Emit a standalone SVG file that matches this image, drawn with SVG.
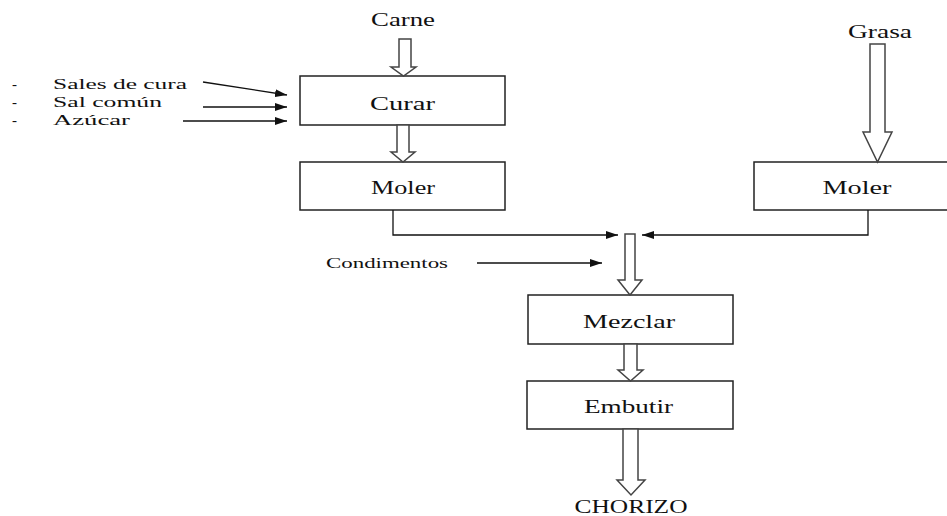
<svg xmlns="http://www.w3.org/2000/svg" width="947" height="516" viewBox="0 0 947 516">
<style>
text{font-family:"Liberation Serif","Times New Roman",serif;fill:#111;}
.t{font-size:18px;}
.l{font-size:15px;}
.s{font-size:14px;}
.box{fill:#fff;stroke:#222;stroke-width:1.5;}
.hol{fill:#fff;stroke:#444;stroke-width:1.5;stroke-linejoin:miter;}
.ln{fill:none;stroke:#111;stroke-width:1.3;}
</style>
<defs>
<marker id="ah" markerWidth="12" markerHeight="8" refX="12" refY="4" orient="auto" markerUnits="userSpaceOnUse">
<path d="M0,0 L12,4 L0,8 Z" fill="#111"/>
</marker>
</defs>
<g id="inputs">
<text class="t" x="403" y="26" text-anchor="middle" textLength="64" lengthAdjust="spacingAndGlyphs">Carne</text>
<text class="t" x="880" y="38" text-anchor="middle" textLength="64" lengthAdjust="spacingAndGlyphs">Grasa</text>
<text class="l" x="12" y="89">-</text>
<text class="l" x="12" y="107">-</text>
<text class="l" x="12" y="125">-</text>
<text class="l" x="53" y="89" textLength="134" lengthAdjust="spacingAndGlyphs">Sales de cura</text>
<text class="l" x="53" y="107" textLength="109" lengthAdjust="spacingAndGlyphs">Sal común</text>
<text class="l" x="53" y="125" textLength="77" lengthAdjust="spacingAndGlyphs">Azúcar</text>
<text class="s" x="326" y="268" textLength="122" lengthAdjust="spacingAndGlyphs">Condimentos</text>
<text class="t" x="631" y="513" text-anchor="middle" textLength="113" lengthAdjust="spacingAndGlyphs">CHORIZO</text>
</g>
<g id="curar">
<rect class="box" x="300" y="76" width="205" height="49"/>
<text class="t" x="402.5" y="110" text-anchor="middle" textLength="65" lengthAdjust="spacingAndGlyphs">Curar</text>
</g>
<g id="moler1">
<rect class="box" x="300" y="162" width="205" height="48"/>
<text class="t" x="403" y="194" text-anchor="middle" textLength="64" lengthAdjust="spacingAndGlyphs">Moler</text>
</g>
<g id="moler2">
<rect class="box" x="754" y="162" width="206" height="48"/>
<text class="t" x="857" y="194" text-anchor="middle" textLength="69" lengthAdjust="spacingAndGlyphs">Moler</text>
</g>
<g id="mezclar">
<rect class="box" x="528" y="295" width="205" height="49"/>
<text class="t" x="629" y="328" text-anchor="middle" textLength="92" lengthAdjust="spacingAndGlyphs">Mezclar</text>
</g>
<g id="embutir">
<rect class="box" x="527" y="381" width="206" height="48"/>
<text class="t" x="628.5" y="413" text-anchor="middle" textLength="89" lengthAdjust="spacingAndGlyphs">Embutir</text>
</g>
<g id="connectors">
<path class="hol" d="M399,39 H411 V67 H416 L403.5,76 L391,67 H399 Z"/>
<path class="hol" d="M397,125 H409 V152 H415 L403,162 L391,152 H397 Z"/>
<path class="hol" d="M870,44 H885 V132 H892 L877.5,162 L863,132 H870 Z"/>
<path class="hol" d="M625,234 H635 V280 H642 L630,295 L618,280 H625 Z"/>
<path class="hol" d="M624,344 H637 V370 H643 L630.5,381 L618,370 H624 Z"/>
<path class="hol" d="M623,429 H638 V480 H645 L631,495 L617,480 H623 Z"/>
<line class="ln" x1="203" y1="82" x2="287" y2="95" marker-end="url(#ah)"/>
<line class="ln" x1="203" y1="107" x2="287" y2="107" marker-end="url(#ah)"/>
<line class="ln" x1="183" y1="121" x2="287" y2="121" marker-end="url(#ah)"/>
<polyline class="ln" points="393,210 393,235 618,235" marker-end="url(#ah)"/>
<polyline class="ln" points="868,210 868,235 642,235" marker-end="url(#ah)"/>
<line class="ln" x1="477" y1="263" x2="602" y2="263" marker-end="url(#ah)"/>
</g>
</svg>
